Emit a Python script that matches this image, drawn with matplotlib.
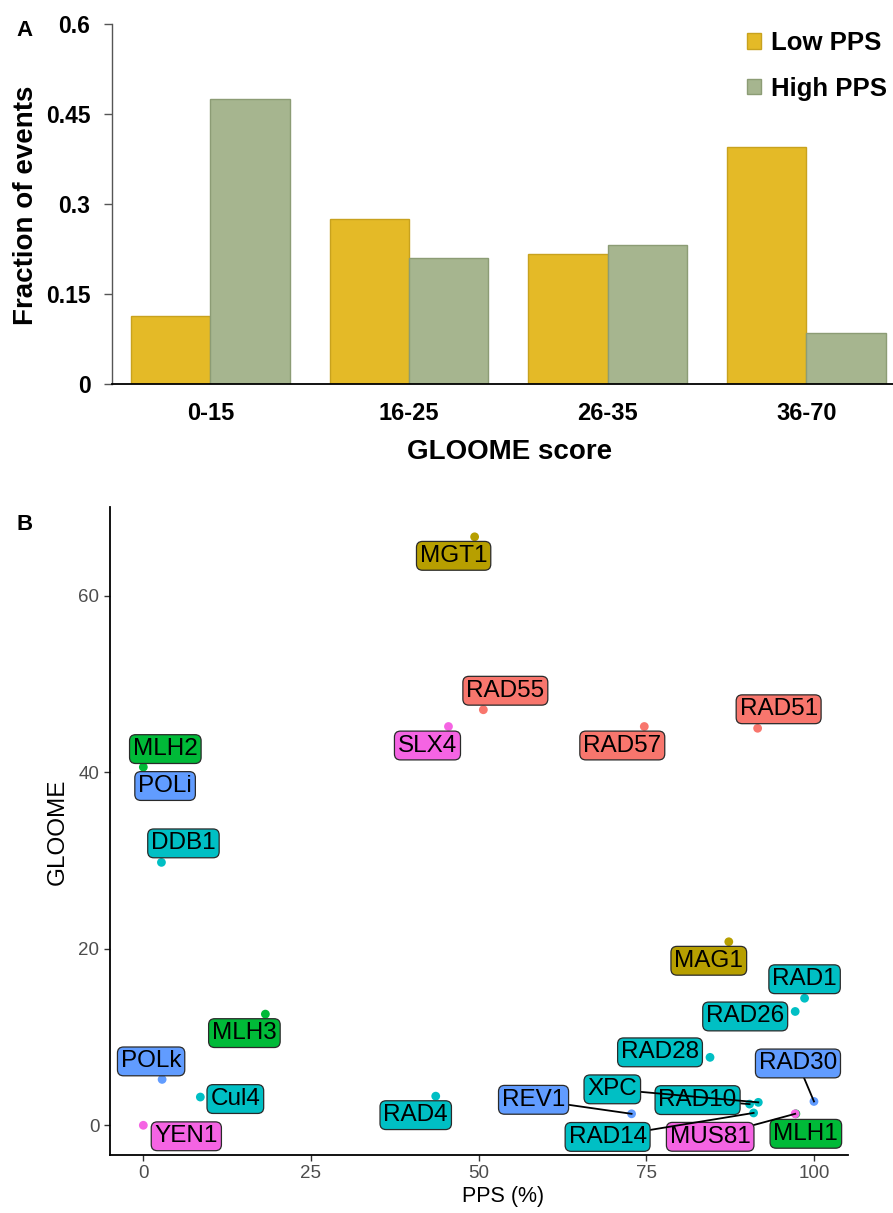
import matplotlib.pyplot as plt
import numpy as np

plt.rcParams['font.family'] = ['Liberation Sans', 'DejaVu Sans']

# Panel A: fraction of events per GLOOME score bin
score_bins = ['0-15', '16-25', '26-35', '36-70']
low_pps = [0.114, 0.276, 0.217, 0.396]
high_pps = [0.475, 0.211, 0.232, 0.086]

# Panel B: PPS vs GLOOME per gene
genes = ['MGT1', 'RAD55', 'SLX4', 'RAD57', 'RAD51', 'MLH2', 'POLi', 'DDB1',
         'MAG1', 'RAD1', 'RAD26', 'RAD28', 'RAD30', 'RAD10', 'XPC', 'MLH1',
         'MUS81', 'RAD14', 'REV1', 'MLH3', 'POLk', 'Cul4', 'YEN1', 'RAD4']
pps = [49.4, 50.7, 45.5, 74.7, 91.6, 0.0, 2.5, 2.7,
       87.3, 98.6, 97.2, 84.5, 100.0, 90.4, 91.7, 97.3,
       97.2, 91.0, 72.8, 18.2, 2.8, 8.5, 0.0, 43.6]
gloome = [66.7, 47.1, 45.2, 45.2, 45.0, 40.6, 38.0, 29.8,
          20.8, 14.4, 12.9, 7.7, 2.7, 2.4, 2.6, 1.3,
          1.3, 1.4, 1.3, 12.6, 5.2, 3.2, 0.0, 3.3]
pathway = ['DR', 'HR', 'RES', 'HR', 'HR', 'MMR', 'TLS', 'NER',
           'DR', 'NER', 'NER', 'NER', 'TLS', 'NER', 'NER', 'MMR',
           'RES', 'NER', 'TLS', 'MMR', 'TLS', 'NER', 'RES', 'NER']

pathway_colors = {'HR': '#F8766D', 'DR': '#B79F00', 'MMR': '#00BA38',
                  'NER': '#00BFC4', 'TLS': '#619CFF', 'RES': '#F564E3'}

# repelled label placement, offsets in pixels from each point
label_offsets = {
    'MGT1': (-21, -19), 'RAD55': (22, 19), 'SLX4': (-21, -19), 'RAD57': (-22, -19),
    'RAD51': (21, 19), 'MLH2': (22, 18), 'POLi': (5, 4), 'DDB1': (22, 19),
    'MAG1': (-20, -19), 'RAD1': (0, 19), 'RAD26': (-50, -5), 'RAD28': (-50, 5),
    'RAD30': (-16, 38), 'RAD10': (-52, 4), 'XPC': (-146, 13), 'MLH1': (10, -20),
    'MUS81': (-85, -23), 'RAD14': (-146, -24), 'REV1': (-98, 14), 'MLH3': (-21, -19),
    'POLk': (-11, 18), 'Cul4': (35, -2), 'YEN1': (43, -11), 'RAD4': (-20, -19),
}

fig = plt.figure(figsize=(8.93, 12.13), dpi=100)

# ---------------- Panel A ----------------
axA = fig.add_axes([112 / 893, 1 - 384.3 / 1213, 781 / 893, 360.3 / 1213])
x = np.arange(len(score_bins))
w = 0.4
axA.bar(x - w / 2, low_pps, w, color='#E4BA27', edgecolor='#C8A21E', lw=1, label='Low PPS')
axA.bar(x + w / 2, high_pps, w, color='#A6B58F', edgecolor='#8C9C75', lw=1, label='High PPS')
axA.set_xlim(-0.495, 3.436)
axA.set_ylim(0, 0.6)
axA.set_xticks(x)
axA.set_xticklabels(score_bins, fontsize=17, fontweight='bold')
axA.set_yticks([0, 0.15, 0.3, 0.45, 0.6])
axA.set_yticklabels(['0', '0.15', '0.3', '0.45', '0.6'], fontsize=16.5, fontweight='bold')
axA.tick_params(axis='x', length=0, pad=13)
axA.tick_params(axis='y', length=5.5, width=1, color='#555555', pad=10)
for s in ['top', 'right']:
    axA.spines[s].set_visible(False)
axA.spines['left'].set_color('#555555')
axA.spines['left'].set_linewidth(1)
axA.spines['bottom'].set_color('black')
axA.spines['bottom'].set_linewidth(1.3)
axA.set_ylabel('Fraction of events', fontsize=20, fontweight='bold')
axA.yaxis.set_label_coords(-0.0935, 0.497)
axA.set_xlabel('GLOOME score', fontsize=20, fontweight='bold')
axA.xaxis.set_label_coords(0.5096, -0.152)
axA.legend(loc='upper left', bbox_to_anchor=(747 / 893, 1 - 31 / 1213),
           bbox_transform=fig.transFigure, frameon=False,
           prop={'weight': 'bold', 'size': 18.5}, handlelength=0.55, handleheight=0.55,
           handletextpad=0.38, labelspacing=0.85, borderpad=0, borderaxespad=0)
fig.text(16 / 893, 1 - 30 / 1213, 'A', fontsize=16, fontweight='bold', ha='left', va='center')

# ---------------- Panel B ----------------
axB = fig.add_axes([109.8 / 893, 1 - 1154.7 / 1213, 737.7 / 893, 647.3 / 1213])
ymax = max(gloome)
axB.set_xlim(-5, 105)
axB.set_ylim(-0.05 * ymax, 1.05 * ymax)

pt_colors = [pathway_colors[p] for p in pathway]
axB.scatter(pps, gloome, s=40, c=pt_colors, zorder=3, linewidths=0)

annots = []
for i, g in enumerate(genes):
    ann = axB.annotate(g, xy=(pps[i], gloome[i]), xytext=label_offsets[g],
                       textcoords='offset pixels', ha='center', va='center',
                       fontsize=17.5, color='black', zorder=10 + 2 * i,
                       annotation_clip=False,
                       bbox=dict(boxstyle='round,pad=0.14,rounding_size=0.25',
                                 fc=pathway_colors[pathway[i]], ec='#2A2A2A', lw=0.9))
    annots.append(ann)

axB.set_xticks([0, 25, 50, 75, 100])
axB.set_yticks([0, 20, 40, 60])
axB.tick_params(axis='both', length=4.5, width=1, color='#333333', labelsize=13.5,
                labelcolor='#4D4D4D', pad=3)
for s in ['top', 'right']:
    axB.spines[s].set_visible(False)
for s in ['left', 'bottom']:
    axB.spines[s].set_color('black')
    axB.spines[s].set_linewidth(1.3)
axB.set_xlabel('PPS (%)', fontsize=15.5)
axB.xaxis.set_label_coords(0.533, -0.048)
axB.set_ylabel('GLOOME', fontsize=17.5)
axB.yaxis.set_label_coords(-0.056, 0.499)
fig.text(16 / 893, 1 - 525 / 1213, 'B', fontsize=16, fontweight='bold', ha='left', va='center')

# segments from point to label when the label sits away from its point
fig.canvas.draw()
renderer = fig.canvas.get_renderer()
for i, ann in enumerate(annots):
    bb = ann.get_bbox_patch().get_window_extent(renderer)
    px, py = axB.transData.transform((pps[i], gloome[i]))
    ddx = max(bb.x0 - px, 0, px - bb.x1)
    ddy = max(bb.y0 - py, 0, py - bb.y1)
    if np.hypot(ddx, ddy) > 9:
        cx, cy = axB.transData.inverted().transform(((bb.x0 + bb.x1) / 2, (bb.y0 + bb.y1) / 2))
        axB.plot([pps[i], cx], [gloome[i], cy], color='black', lw=1.3,
                 zorder=9.5 + 2 * i, clip_on=False)

fig.savefig('out.png', dpi=100)
